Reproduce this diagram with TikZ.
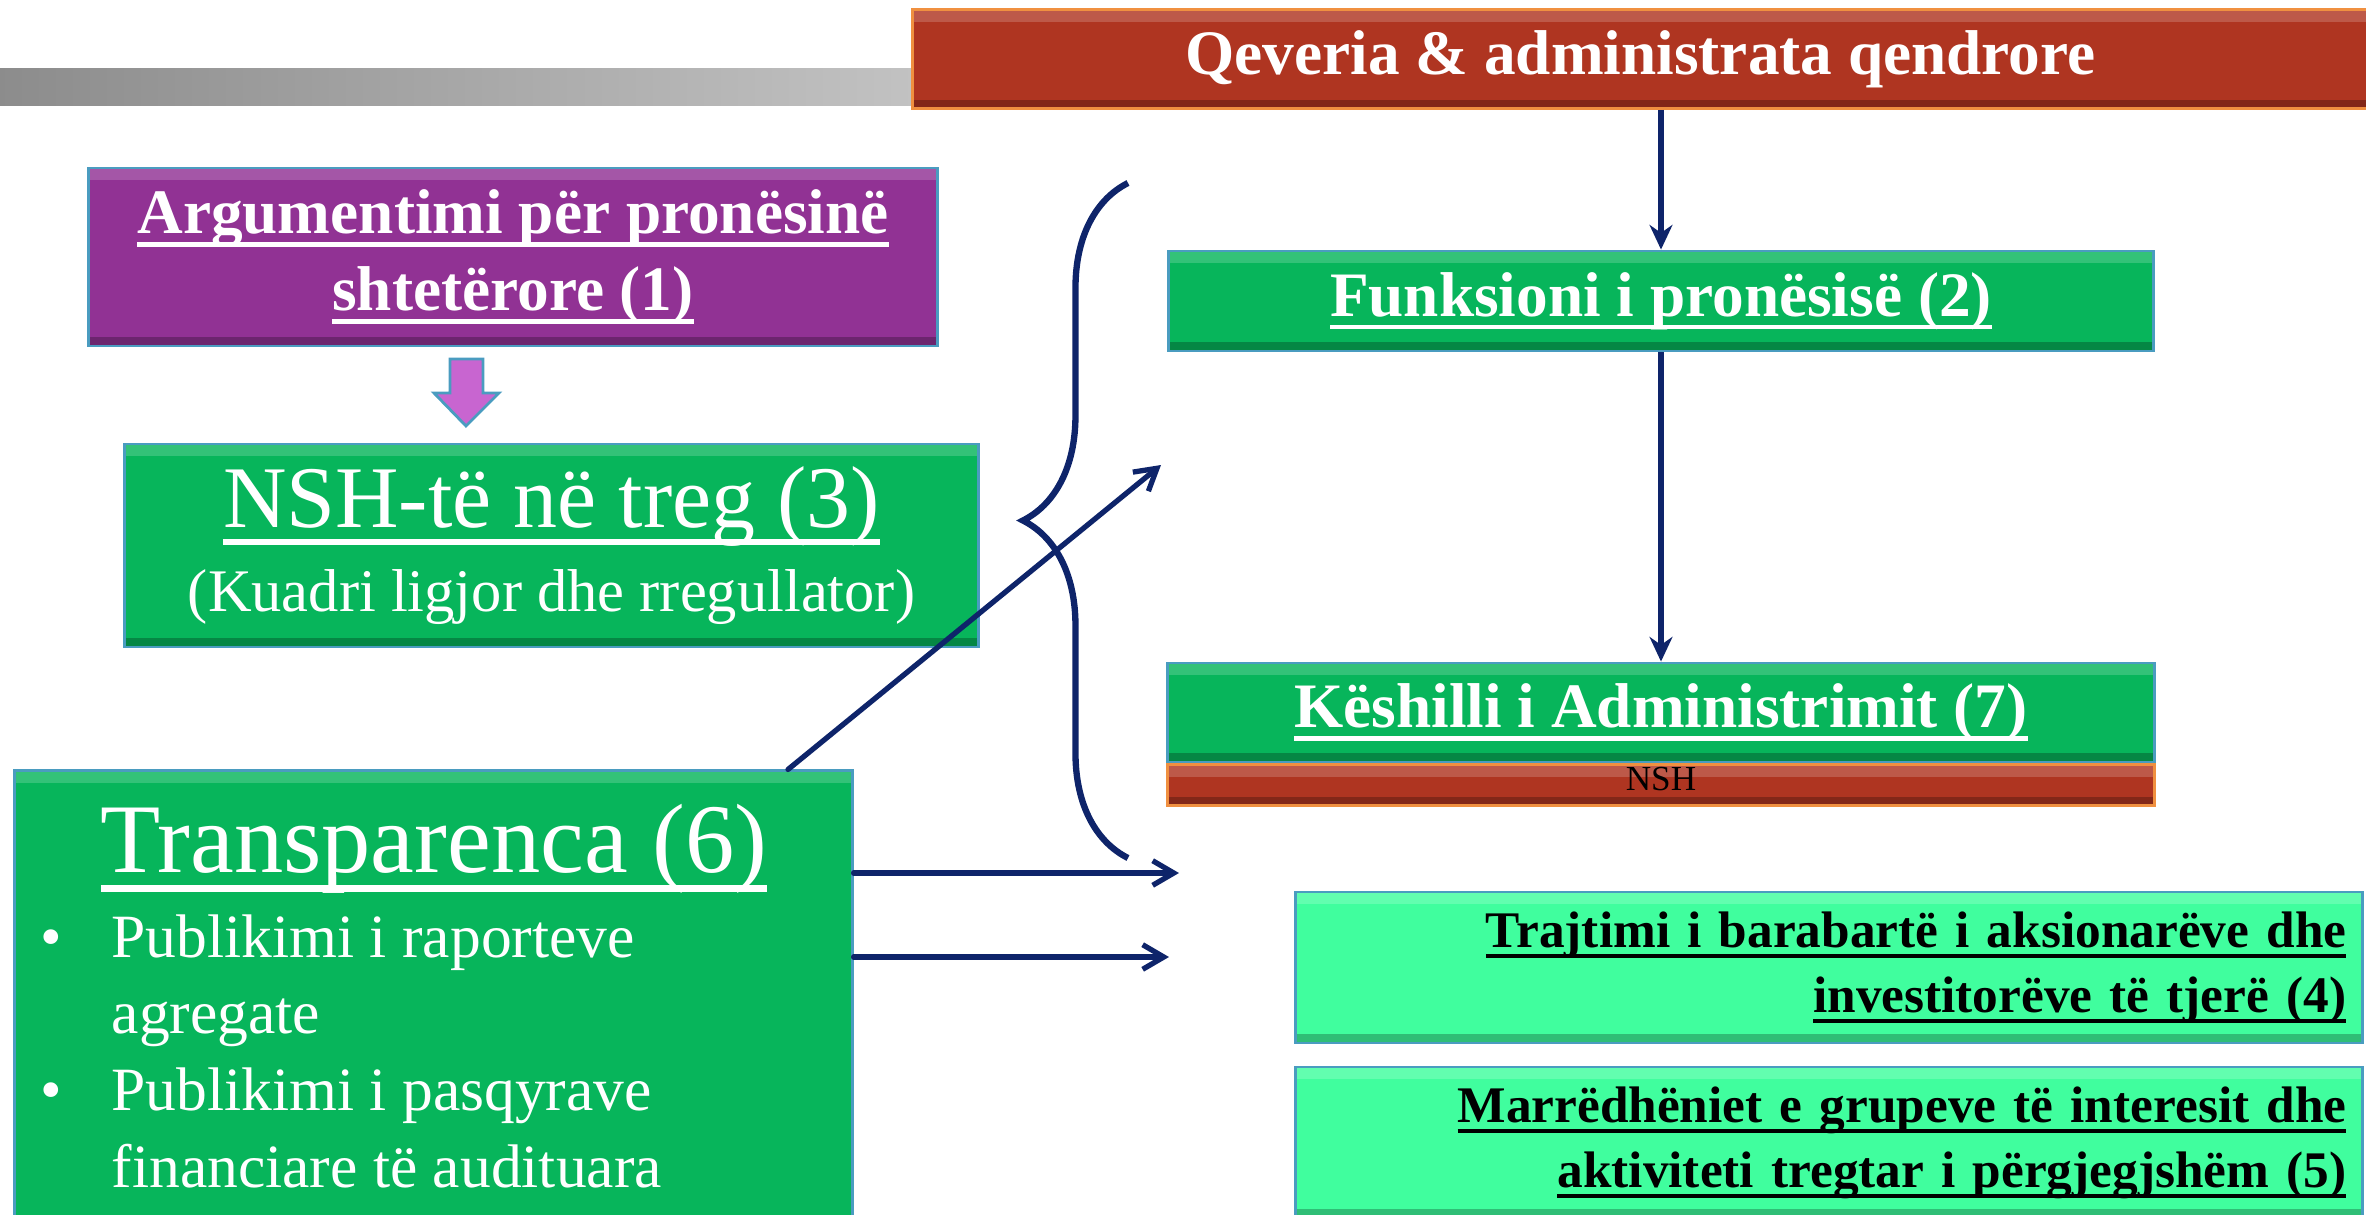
\documentclass[tikz,border=0pt]{standalone}
\usepackage{fontspec}
\setmainfont{Liberation Serif}
\usetikzlibrary{arrows.meta,positioning,calc,decorations.pathreplacing}

\definecolor{govred}{HTML}{AF3521}
\definecolor{soegreen}{HTML}{07B55B}
\definecolor{mintgreen}{HTML}{40FE9E}
\definecolor{argpurple}{HTML}{913294}
\definecolor{linknavy}{HTML}{0E246A}
\definecolor{edgeblue}{HTML}{4A9CC0}
\definecolor{edgeorange}{HTML}{F09040}
\definecolor{arrowpink}{HTML}{C865D0}

% underline scaled to the current font
\newsavebox{\ulsave}
\newcommand{\ulx}[1]{\leavevmode\sbox{\ulsave}{#1}\rlap{\rule[-0.205em]{\wd\ulsave}{0.07em}}\usebox{\ulsave}}

\begin{document}
\begin{tikzpicture}[x=0.01cm, y=-0.01cm,
  box/.style={draw=edgeblue, line width=0.8pt, inner sep=0pt, align=center, text=white,
    path picture={
      \fill[white, opacity=0.18] (path picture bounding box.north west) rectangle ([yshift=-3.5pt]path picture bounding box.north east);
      \fill[black, opacity=0.25] (path picture bounding box.south west) rectangle ([yshift=2.5pt]path picture bounding box.south east);}},
  redbox/.style={box, draw=edgeorange, fill=govred},
  greenbox/.style={box, fill=soegreen},
  mintbox/.style={box, fill=mintgreen, text=black},
  titlefont/.style={font=\fontsize{18}{22}\selectfont\bfseries},
  link/.style={draw=linknavy, line width=1.5pt, -{Stealth[length=7pt,width=6.5pt]}},
  barb/.style={draw=linknavy, line width=1.5pt, line cap=round, -{Straight Barb[length=6pt,width=7pt]}}]
      \useasboundingbox (0,0) rectangle (2366,1215);
      \shade[left color=black!45, right color=black!24] (0,68) rectangle (913,105);

      \node[redbox, titlefont, minimum width=14.55cm, minimum height=0.99cm] (govt) at (1640.5,59) {Qeveria \& administrata qendrore};
      \node[greenbox, titlefont, minimum width=9.84cm, minimum height=1cm] (owner) at (1661,301) {\ulx{Funksioni i pronësisë (2)}};
      \node[greenbox, titlefont, minimum width=9.86cm, minimum height=0.99cm] (board) at (1661,712.5) {\ulx{Këshilli i Administrimit (7)}};
      \node[redbox, minimum width=9.86cm, minimum height=0.41cm, below=0pt of board,
            label={[anchor=north, inner sep=1pt, text=black, font=\fontsize{10}{12}\selectfont]north:NSH}] (boardNSH) {};
      \node[box, fill=argpurple, titlefont, minimum width=8.48cm, minimum height=1.78cm] (rationale) at (513,257) {\ulx{Argumentimi për pronësinë}\\\ulx{shtetërore (1)}};
      \node[greenbox, font=\fontsize{17.2}{24}\selectfont, minimum width=8.53cm, minimum height=2.03cm] (market) at (551.5,545.5) {{\fontsize{25}{30}\selectfont\ulx{NSH-të në treg (3)}}\\(Kuadri ligjor dhe rregullator)};
      \node[greenbox, minimum width=8.37cm, minimum height=4.6cm] (transp) at (433.5,1001) {};
      \node[text=white, font=\fontsize{28}{34}\selectfont, anchor=base] (transpTitle) at (434,872) {\ulx{Transparenca (6)}};
      \node[text=white, font=\fontsize{17.5}{21.8}\selectfont, align=left, anchor=base west, inner sep=0pt] (transpList) at (111,1187)
        {\llap{\textbullet\hspace{14pt}}Publikimi i raporteve\\agregate\\\llap{\textbullet\hspace{14pt}}Publikimi i pasqyrave\\financiare të audituara};
      \node[mintbox, font=\fontsize{14.6}{18.5}\selectfont\bfseries, text width=10.34cm, align=right, minimum width=10.66cm, minimum height=1.51cm] (equal) at (1829,967.5) {\ulx{Trajtimi i barabartë i aksionarëve dhe}\\\ulx{investitorëve të tjerë (4)}};
      \node[mintbox, font=\fontsize{14.6}{18.5}\selectfont\bfseries, text width=10.34cm, align=right, minimum width=10.66cm, minimum height=1.51cm] (stake) at (1829,1142.5) {\ulx{Marrëdhëniet e grupeve të interesit dhe}\\\ulx{aktiviteti tregtar i përgjegjshëm (5)}};

      % block arrow from (1) to (3)
      \draw[draw=edgeblue, fill=arrowpink, line width=0.8pt] (450,359) -- (483,359) -- (483,393) -- (499,393) -- (466,426) -- (434,393) -- (450,393) -- cycle;

      \coordinate (braceTop) at (1128,183);
      \coordinate (braceLow) at (1128,858);
      \coordinate (diagTip) at (1161,465);
      \coordinate (tipA) at (1179,873);
      \coordinate (tipB) at (1169,957);

      \draw[link] (govt.south -| owner.north) -- (owner.north);
      \draw[link] (owner) -- (board);
      \draw[draw=linknavy, line width=1.8pt, decorate, decoration={brace, amplitude=1.05cm}] (braceLow) -- (braceTop);
      \draw[barb] ($(transp.north)+(354.5,0)$) -- (diagTip);
      \draw[barb] (transp.east |- tipA) -- (tipA);
      \draw[barb] (transp.east |- tipB) -- (tipB);
\end{tikzpicture}
\end{document}
